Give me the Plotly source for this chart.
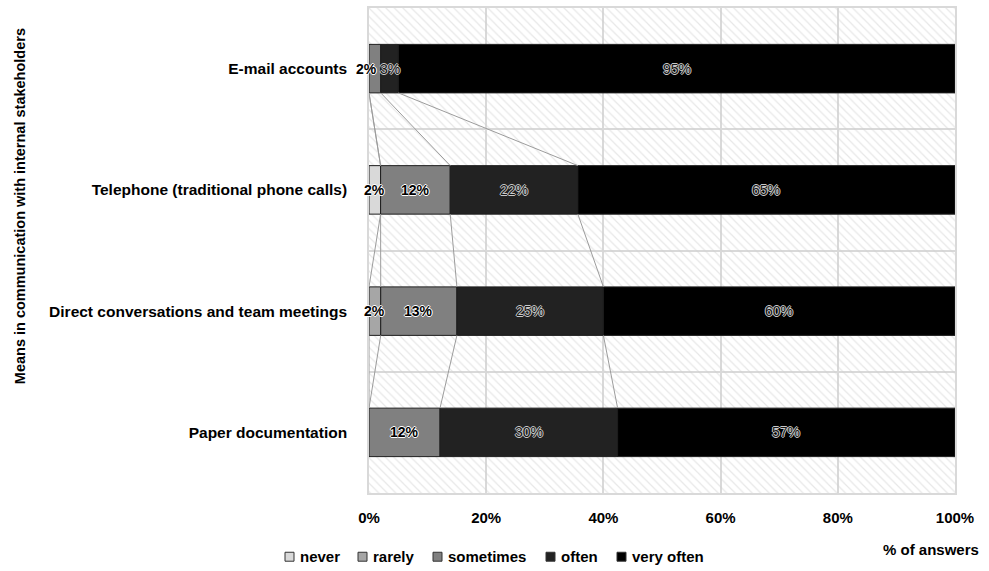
import plotly.graph_objects as go

# ---- data -----------------------------------------------------------------
categories = [
    "E-mail accounts",
    "Telephone (traditional phone calls)",
    "Direct conversations and team meetings",
    "Paper documentation",
]
levels = ["never", "rarely", "sometimes", "often", "very often"]
never = [0, 2, 0, 0]
rarely = [0, 0, 2, 0]
sometimes = [2, 12, 13, 12]
often = [3, 22, 25, 30]
very_often = [95, 65, 60, 57]
x_ticks = [0, 20, 40, 60, 80, 100]
x_tick_labels = ["0%", "20%", "40%", "60%", "80%", "100%"]

series = [never, rarely, sometimes, often, very_often]
colors = ["#d9d9d9", "#a6a6a6", "#808080", "#222222", "#000000"]

# ---- layout geometry (pixels) ---------------------------------------------
W_FIG, H_FIG = 989, 571
M_L, M_R, M_T, M_B = 369, 34, 6, 78
PW = W_FIG - M_L - M_R
PH = H_FIG - M_T - M_B


def px(x):
    return (x - M_L) / PW


def py(y):
    return (M_T + PH - y) / PH


FONT = "Liberation Sans, Arial, sans-serif"
BAR_W = 0.4

# each bar is shown as a 100% stack, so normalise the answers per category
totals = [sum(s[i] for s in series) for i in range(len(categories))]
shares = [[s[i] * 100.0 / totals[i] for i in range(len(categories))] for s in series]
cum = []
run = [0.0] * len(categories)
for sh in shares:
    cum.append(run[:])
    run = [run[i] + sh[i] for i in range(len(categories))]

fig = go.Figure()

# hatched plot background, one full-height band per category
fig.add_trace(go.Bar(
    y=categories, x=[x_ticks[-1]] * len(categories), base=0, width=1.0,
    orientation="h", showlegend=False, hoverinfo="skip",
    marker=dict(color="rgba(0,0,0,0)", line=dict(width=0),
                pattern=dict(shape="\\", fgcolor="#d0d0d0", bgcolor="rgba(0,0,0,0)",
                             size=6, solidity=0.2)),
))

for k, name in enumerate(levels):
    fig.add_trace(go.Bar(
        y=categories, x=shares[k], base=cum[k], width=BAR_W, orientation="h",
        name=name, showlegend=False,
        marker=dict(color=colors[k], line=dict(color="#1e1e1e", width=1)),
    ))

LIGHT_OUTLINE = "1px 0 0 #fff, -1px 0 0 #fff, 0 1px 0 #fff, 0 -1px 0 #fff"
DARK_OUTLINE = ("1px 0 0 #c8c8c8, -1px 0 0 #c8c8c8, "
                "0 1px 0 #c8c8c8, 0 -1px 0 #c8c8c8")

annotations = []
# value labels centred on each segment; a narrow leading segment followed by
# another narrow one gets its label nudged left so the two do not collide
for i, cat in enumerate(categories):
    first = True
    for k in range(len(levels)):
        v = series[k][i]
        if v == 0:
            continue
        nxt = next((shares[j][i] for j in range(k + 1, len(levels)) if series[j][i]), 100)
        shift = -8 if (first and shares[k][i] < 3 and nxt < 5) else 0
        first = False
        dark = k >= 3
        annotations.append(dict(
            x=cum[k][i] + shares[k][i] / 2, y=cat, xref="x", yref="y",
            xshift=shift, text=f"{v}%", showarrow=False,
            font=dict(family=FONT, size=14, color="#151515" if dark else "#000000",
                      weight="normal" if dark else "bold",
                      shadow=DARK_OUTLINE if dark else LIGHT_OUTLINE),
        ))

# series lines joining segment boundaries of neighbouring bars
shapes = []
for i in range(len(categories) - 1):
    for k in range(len(levels) - 1):
        shapes.append(dict(
            type="line", xref="x", yref="y",
            x0=cum[k + 1][i], y0=i + BAR_W / 2,
            x1=cum[k + 1][i + 1], y1=i + 1 - BAR_W / 2,
            line=dict(color="#9c9c9c", width=1), layer="above",
        ))

# legend drawn as small squares with labels beneath the axis
leg_sq_x = [285, 358, 433, 546, 617]
leg_y = 557
for k, name in enumerate(levels):
    x0 = leg_sq_x[k]
    shapes.append(dict(
        type="rect", xref="paper", yref="paper",
        x0=px(x0), x1=px(x0 + 9), y0=py(leg_y + 4.5), y1=py(leg_y - 4.5),
        fillcolor=colors[k], line=dict(color="#333333", width=1), layer="above",
    ))
    annotations.append(dict(
        x=px(x0 + 13), y=py(leg_y), xref="paper", yref="paper",
        xanchor="left", yanchor="middle", text=name, showarrow=False,
        font=dict(family=FONT, size=15, color="#000000", weight="bold"),
    ))

# axis titles
annotations.append(dict(
    x=px(931), y=py(550), xref="paper", yref="paper", text="% of answers",
    showarrow=False, xanchor="center", yanchor="middle",
    font=dict(family=FONT, size=15, color="#000000", weight="bold"),
))
annotations.append(dict(
    x=px(20), y=py(205), xref="paper", yref="paper", textangle=-90,
    text="Means in communication with internal stakeholders",
    showarrow=False, xanchor="center", yanchor="middle",
    font=dict(family=FONT, size=14.5, color="#000000", weight="bold"),
))

fig.update_layout(
    width=W_FIG, height=H_FIG,
    margin=dict(l=M_L, r=M_R, t=M_T, b=M_B, pad=0),
    barmode="overlay",
    paper_bgcolor="white", plot_bgcolor="white",
    showlegend=False,
    shapes=shapes, annotations=annotations,
    xaxis=dict(
        range=[x_ticks[0], x_ticks[-1]], tickvals=x_ticks, ticktext=x_tick_labels,
        showgrid=True, gridcolor="#d9d9d9", gridwidth=1.5, zeroline=False,
        showline=True, linecolor="#d9d9d9", linewidth=1.5, mirror=True,
        ticks="", ticklabelstandoff=10,
        tickfont=dict(family=FONT, size=15, color="#000000", weight="bold"),
        fixedrange=True,
    ),
    yaxis=dict(
        categoryorder="array", categoryarray=categories,
        range=[len(categories) - 0.5, -0.5],
        tickson="boundaries", showgrid=True, gridcolor="#d9d9d9", gridwidth=1.5,
        showline=True, linecolor="#d9d9d9", linewidth=1.5, mirror=True,
        ticks="", ticklabelstandoff=17, zeroline=False,
        tickfont=dict(family=FONT, size=15.5, color="#000000", weight="bold"),
        fixedrange=True,
    ),
    font=dict(family=FONT, color="#000000"),
)

fig.write_html("out.html")
